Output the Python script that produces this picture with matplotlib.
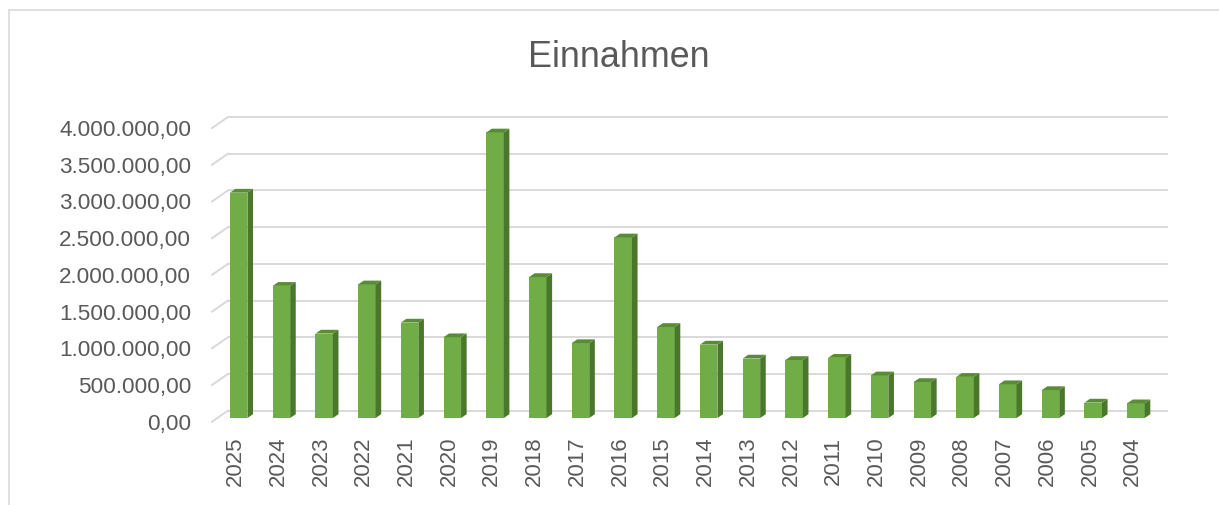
import matplotlib
matplotlib.use("Agg")
import matplotlib.pyplot as plt
from matplotlib.patches import Rectangle, Polygon
import numpy as np

years = ["2025", "2024", "2023", "2022", "2021", "2020", "2019", "2018", "2017", "2016", "2015",
         "2014", "2013", "2012", "2011", "2010", "2009", "2008", "2007", "2006", "2005", "2004"]
einnahmen = [3070000, 1800000, 1150000, 1820000, 1300000, 1100000, 3890000, 1920000, 1020000, 2460000, 1240000,
             1000000, 810000, 790000, 820000, 580000, 490000, 560000, 460000, 380000, 210000, 200000]
yticks = [0, 500000, 1000000, 1500000, 2000000, 2500000, 3000000, 3500000, 4000000]

def de_fmt(v):
    s = f"{v:,.2f}"
    return s.replace(",", "X").replace(".", ",").replace("X", ".")

W, H = 1219, 505
plt.rcParams['font.family'] = ['Liberation Sans', 'DejaVu Sans']
fig = plt.figure(figsize=(W / 100, H / 100), dpi=100)

# chart border
fig.patches.append(Rectangle((9 / W, -0.1), 1.1, (H - 10) / H + 0.1, transform=fig.transFigure,
                             fill=False, edgecolor="#D9D9D9", linewidth=1.2))

ax_l, ax_r, ax_b, ax_t = 212, 1152, 421.7, 128.1
ax = fig.add_axes([ax_l / W, (H - ax_b) / H, (ax_r - ax_l) / W, (ax_b - ax_t) / H])
n = len(years)
ax.set_xlim(-0.5, n - 0.5)
ax.set_ylim(0, 4000000)
for s in ax.spines.values():
    s.set_visible(False)
ax.patch.set_visible(False)

def px(dx, dy):
    p0 = ax.transData.transform((0, 0))
    q = ax.transData.inverted().transform(p0 + np.array([dx, dy]))
    return q[0], q[1]

# depths in pixels
Dx, Dy = px(16, 11.1)        # full floor depth
bx1, by1 = px(5.3, 3.7)      # bar front offset
bdx, bdy = px(5.6, 3.8)      # bar depth

grid_c = "#D9D9D9"
for t in yticks:
    ax.plot([-0.5 + Dx, n - 0.5 + Dx], [t + Dy, t + Dy], color=grid_c, lw=1.4, zorder=1,
            solid_capstyle="butt", clip_on=False)
    ax.plot([-0.5, -0.5 + Dx], [t, t + Dy], color=grid_c, lw=1.4, zorder=1, clip_on=False)

bw = 0.41
front_c, side_c, top_c = "#70AD47", "#4B772D", "#5A8C38"
for i, v in enumerate(einnahmen):
    x0 = i - bw / 2 + bx1
    x1 = x0 + bw
    y0 = by1
    ax.add_patch(Rectangle((x0, y0), bw, v, facecolor=front_c, edgecolor="none", zorder=3, clip_on=False))
    ax.add_patch(Polygon([(x1, y0), (x1 + bdx, y0 + bdy), (x1 + bdx, y0 + v + bdy), (x1, y0 + v)],
                         closed=True, facecolor=side_c, edgecolor="none", zorder=3, clip_on=False))
    ax.add_patch(Polygon([(x0, y0 + v), (x1, y0 + v), (x1 + bdx, y0 + v + bdy), (x0 + bdx, y0 + v + bdy)],
                         closed=True, facecolor=top_c, edgecolor="none", zorder=3, clip_on=False))

ax.set_yticks(yticks)
ax.set_yticklabels([de_fmt(t) for t in yticks], fontsize=16.2, color="#595959")
ax.set_xticks(np.arange(n) + 0.05)
ax.set_xticklabels(years, rotation=90, fontsize=16, color="#595959")
ax.tick_params(axis="y", length=0, pad=15)
ax.tick_params(axis="x", length=0, pad=10.8)

fig.text(619 / W, (H - 66.7) / H, "Einnahmen", ha="center", va="baseline", fontsize=25.8,
         color="#595959")

fig.savefig("out.png", dpi=100, facecolor="white")
